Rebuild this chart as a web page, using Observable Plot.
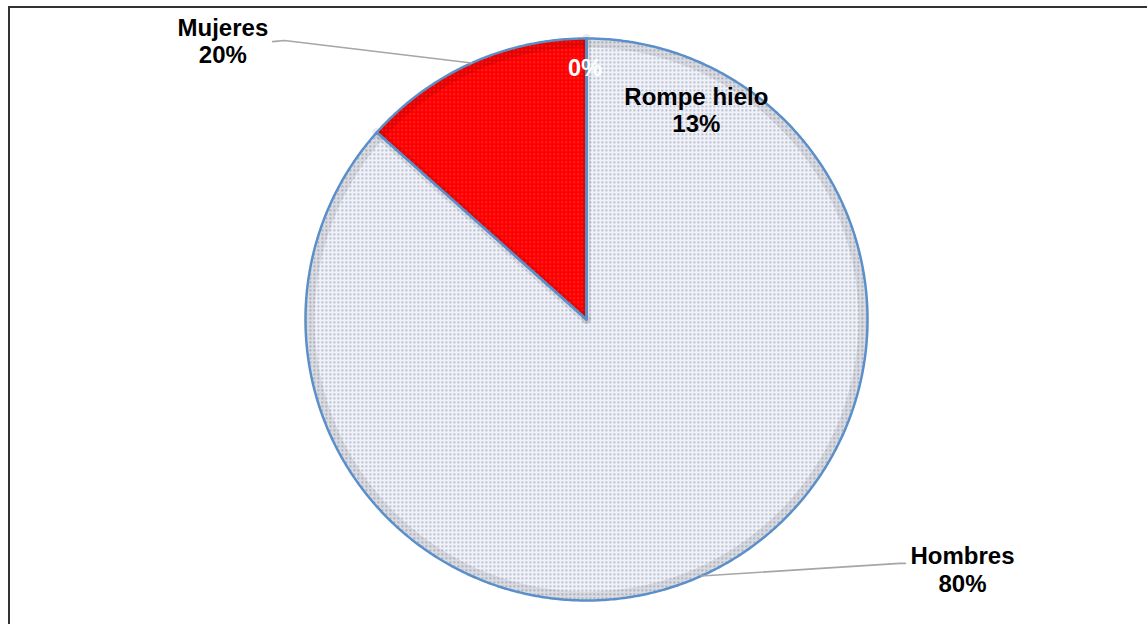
<!DOCTYPE html>
<html><head><meta charset="utf-8">
<script src="https://cdn.jsdelivr.net/npm/d3@7"></script>
<script src="https://cdn.jsdelivr.net/npm/@observablehq/plot@0.6"></script>
<style>
html,body{margin:0;padding:0;background:#fff;}
#wrap{position:relative;width:1147px;height:624px;overflow:hidden;}
#frame{position:absolute;left:8px;top:6px;right:-10px;bottom:-10px;border-left:2px solid #333;border-top:2px solid #333;pointer-events:none;}
</style></head>
<body><div id="wrap"><div id="frame"></div></div>
<script>
// ---- data ----
const sliceNames = ["Hombres", "Mujeres", "Rompe hielo"];
const sliceValues = [86.6, 13.4, 0];
const labelNames = ["Mujeres", "Rompe hielo", "", "Hombres"];
const labelPercents = ["20%", "13%", "0%", "80%"];

// ---- layout (units of pie radius, origin at pie centre) ----
const W = 1147, H = 624, CX = 586, CY = 319, R = 281;
const labelLayout = [
  {x: -1.294, y: 0.993, color: "#000", size: 24},
  {x: 0.391, y: 0.747, color: "#000", size: 24},
  {x: -0.005, y: 0.898, color: "#fff", size: 23.5},
  {x: 1.338, y: -0.889, color: "#000", size: 24}
];
const leaderLayout = [
  {slice: 1, pts: [[-1.117, 0.989], [-1.075, 0.993]]},
  {slice: 0, pts: [[1.135, -0.868], [1.115, -0.868]]}
];
const fills = ["url(#dotsGray)", "url(#dotsRed)", "url(#dotsGray)"];

const arcs = d3.pie().sort(null).startAngle(0).endAngle(2 * Math.PI)(sliceValues);
const pt = (a, r) => [r * Math.sin(a), r * Math.cos(a)];
function slicePoly(arc, i) {
  const pts = [{name: sliceNames[i], x: 0, y: 0}];
  const n = Math.max(2, Math.ceil((arc.endAngle - arc.startAngle) / (Math.PI / 360)));
  for (let k = 0; k <= n; k++) {
    const a = arc.startAngle + (arc.endAngle - arc.startAngle) * k / n;
    const [x, y] = pt(a, 1);
    pts.push({name: sliceNames[i], x, y});
  }
  return pts;
}
const polys = arcs.map(slicePoly);

// shadow ring
const ring = d3.range(0, 721).map(k => { const [x, y] = pt(k * Math.PI / 360, 0.982); return {x, y}; });
const radials = arcs.filter(a => a.value > 0).map(a => [{x: 0, y: 0}, {x: pt(a.startAngle, 1)[0], y: pt(a.startAngle, 1)[1]}]);

const leaders = leaderLayout.map(l => {
  const a = arcs[l.slice];
  const mid = (a.startAngle + a.endAngle) / 2;
  const e = pt(mid, 1);
  return [...l.pts.map(p => ({x: p[0], y: p[1]})), {x: e[0], y: e[1]}];
});

const labels = labelNames.map((n, i) => ({
  text: n ? n + "\n" + labelPercents[i] : labelPercents[i],
  ...labelLayout[i]
}));

const marks = [];
polys.forEach((p, i) => marks.push(Plot.line(p, {x: "x", y: "y", fill: fills[i], stroke: "none", curve: "linear-closed"})));
marks.push(Plot.line(ring, {x: "x", y: "y", stroke: "#000", strokeOpacity: 0.09, strokeWidth: 8}));
radials.forEach(r => marks.push(Plot.line(r, {x: "x", y: "y", stroke: "#000", strokeOpacity: 0.08, strokeWidth: 9})));
polys.forEach((p, i) => marks.push(Plot.line(p, {x: "x", y: "y", fill: "none", stroke: "#5b8fc9", strokeWidth: 2.5, curve: "linear-closed", strokeLinejoin: "round"})));
leaders.forEach(l => marks.push(Plot.line(l, {x: "x", y: "y", stroke: "#a6a6a6", strokeWidth: 1.6})));
labels.forEach(l => marks.push(Plot.text([l], {
  x: "x", y: "y", text: "text", fill: l.color, fontSize: l.size, fontWeight: "bold",
  fontFamily: "Liberation Sans, Arial, sans-serif", lineHeight: 1.13
})));

const svg = Plot.plot({
  width: W, height: H,
  marginTop: 0, marginBottom: 0, marginLeft: 0, marginRight: 0,
  x: {domain: [-CX / R, (W - CX) / R], range: [0, W], axis: null},
  y: {domain: [-(H - CY) / R, CY / R], range: [H, 0], axis: null},
  style: {background: "transparent", fontFamily: "Liberation Sans, Arial, sans-serif"},
  marks
});
const ns = "http://www.w3.org/2000/svg";
const defs = document.createElementNS(ns, "defs");
defs.innerHTML = `
<pattern id="dotsGray" width="4" height="4" patternUnits="userSpaceOnUse">
  <rect width="4" height="4" fill="#f1f2f6"/>
  <rect x="1" y="1" width="1.6" height="1.6" fill="#97a0c4"/>
</pattern>
<pattern id="dotsRed" width="4" height="4" patternUnits="userSpaceOnUse">
  <rect width="4" height="4" fill="#ff0000"/>
  <rect x="1" y="1" width="1.2" height="1.2" fill="#ff5a5a"/>
</pattern>`;
svg.insertBefore(defs, svg.firstChild);
svg.style.position = "absolute";
svg.style.left = "0";
svg.style.top = "0";
document.getElementById("wrap").insertBefore(svg, document.getElementById("frame"));
</script>
</body></html>
